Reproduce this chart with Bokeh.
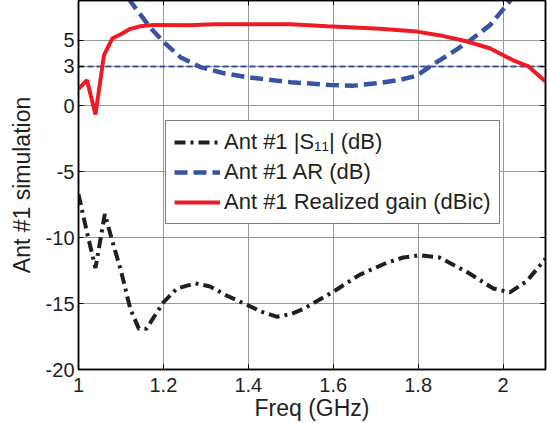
from bokeh.plotting import figure
from bokeh.models import (Range1d, FixedTicker, LinearAxis, Legend, LegendItem,
                          CustomJSTickFormatter)
from bokeh.embed import file_html
from bokeh.resources import INLINE

# ---------------- data ----------------
freq_s11 = [1.0, 1.02, 1.04, 1.062, 1.08, 1.1, 1.122, 1.142, 1.16, 1.18, 1.2,
            1.232, 1.275, 1.31, 1.35, 1.397, 1.43, 1.468, 1.5, 1.53, 1.6,
            1.663, 1.726, 1.765, 1.805, 1.85, 1.915, 1.977, 2.016, 2.056, 2.1]
s11 = [-6.7, -9.6, -12.3, -8.2, -10.3, -12.5, -15.4, -16.9, -16.9, -15.9, -14.9,
       -13.85, -13.46, -13.7, -14.4, -15.1, -15.6, -16.0, -15.8, -15.4, -14.1,
       -12.8, -11.9, -11.5, -11.33, -11.5, -12.6, -13.85, -14.15, -13.3, -11.6]

freq_ar = [1.05, 1.09, 1.122, 1.17, 1.2, 1.24, 1.287, 1.34, 1.397, 1.5, 1.593,
           1.648, 1.71, 1.76, 1.797, 1.828, 1.87, 1.918, 1.97, 2.016, 2.06, 2.1]
ar = [13.5, 10.2, 7.95, 5.9, 4.87, 3.7, 2.95, 2.5, 2.18, 1.8, 1.59,
      1.54, 1.74, 2.0, 2.3, 3.0, 3.85, 4.87, 6.15, 7.95, 10.0, 12.5]

freq_gain = [1.0, 1.02, 1.04, 1.06, 1.08, 1.1, 1.122, 1.146, 1.177, 1.26, 1.32,
             1.5, 1.586, 1.65, 1.71, 1.797, 1.86, 1.918, 1.97, 2.024, 2.06, 2.1]
gain = [1.3, 1.95, -0.65, 3.85, 5.13, 5.44, 5.85, 6.05, 6.15, 6.12, 6.2,
        6.2, 6.05, 5.95, 5.85, 5.64, 5.3, 4.87, 4.36, 3.46, 3.0, 1.85]

thr_freq = [1.0, 2.1]
thr_ar = [3, 3]

x_range = (1.0, 2.1)
y_range = (-20, 8)
x_ticks = [1.0, 1.2, 1.4, 1.6, 1.8, 2.0]
y_ticks = [-20, -15, -10, -5, 0, 3, 5]

x_title = "Freq (GHz)"
y_title = "Ant #1 simulation"
legend_labels = ["Ant #1 |S\u2081\u2081| (dB)", "Ant #1 AR (dB)",
                 "Ant #1 Realized gain (dBic)"]

FONT = "Liberation Sans"
TXT = "#231f20"

p = figure(width=547, height=423, output_backend="svg", toolbar_location=None,
           x_range=Range1d(*x_range), y_range=Range1d(*y_range),
           min_border_left=78, min_border_right=2, min_border_top=0,
           min_border_bottom=53, background_fill_color="white",
           border_fill_color="white")

p.outline_line_color = "black"
p.outline_line_width = 1.5

fmt = CustomJSTickFormatter(code="return String(Math.round(tick*10)/10);")

p.xaxis.ticker = FixedTicker(ticks=x_ticks)
p.yaxis.ticker = FixedTicker(ticks=y_ticks)
p.xaxis.formatter = fmt
p.yaxis.formatter = fmt
for ax in (p.xaxis[0], p.yaxis[0]):
    ax.axis_line_color = "black"
    ax.axis_line_width = 1.5
    ax.major_tick_in = 5
    ax.major_tick_out = 0
    ax.major_tick_line_color = "black"
    ax.minor_tick_line_color = None
    ax.major_label_text_font = FONT
    ax.major_label_text_font_size = "20px"
    ax.major_label_text_color = TXT
    ax.axis_label_text_font = FONT
    ax.axis_label_text_font_size = "23px"
    ax.axis_label_text_font_style = "normal"
    ax.axis_label_text_color = TXT
p.xaxis.major_label_standoff = 8
p.yaxis.major_label_standoff = 4
p.xaxis.axis_label = x_title
p.yaxis.axis_label = y_title
p.xaxis.axis_label_standoff = 0
p.yaxis.axis_label_standoff = 8

for loc in ("above", "right"):
    ax = LinearAxis(ticker=FixedTicker(ticks=x_ticks if loc == "above" else y_ticks),
                    axis_line_color="black", axis_line_width=1.5,
                    major_tick_in=5, major_tick_out=0, minor_tick_line_color=None,
                    major_label_text_font_size="0px", major_label_text_color=None,
                    major_label_standoff=0)
    p.add_layout(ax, loc)

p.xgrid.grid_line_color = "#999999"
p.ygrid.grid_line_color = "#999999"
p.xgrid.ticker = FixedTicker(ticks=x_ticks)
p.ygrid.ticker = FixedTicker(ticks=y_ticks)
p.grid.grid_line_width = 1

p.line(thr_freq, thr_ar, line_color="#3953a4", line_width=2, line_dash="6 3")
r_s11 = p.line(freq_s11, s11, line_color="#231f20", line_width=4,
               line_dash="11 5 3 5")
r_ar = p.line(freq_ar, ar, line_color="#3953a4", line_width=4.5, line_dash="13 6")
r_gain = p.line(freq_gain, gain, line_color="#ed1c24", line_width=4)

legend = Legend(items=[LegendItem(label=legend_labels[0], renderers=[r_s11]),
                       LegendItem(label=legend_labels[1], renderers=[r_ar]),
                       LegendItem(label=legend_labels[2], renderers=[r_gain])],
                location=(87, 145), margin=0, padding=8, spacing=4,
                glyph_width=46, glyph_height=24, label_height=24,
                label_standoff=4, label_text_font=FONT,
                label_text_font_size="22px", label_text_color=TXT,
                border_line_color="black", border_line_width=1.5,
                background_fill_color="white", background_fill_alpha=1)
p.add_layout(legend, "center")

open("out.html", "w").write(file_html(p, INLINE))
